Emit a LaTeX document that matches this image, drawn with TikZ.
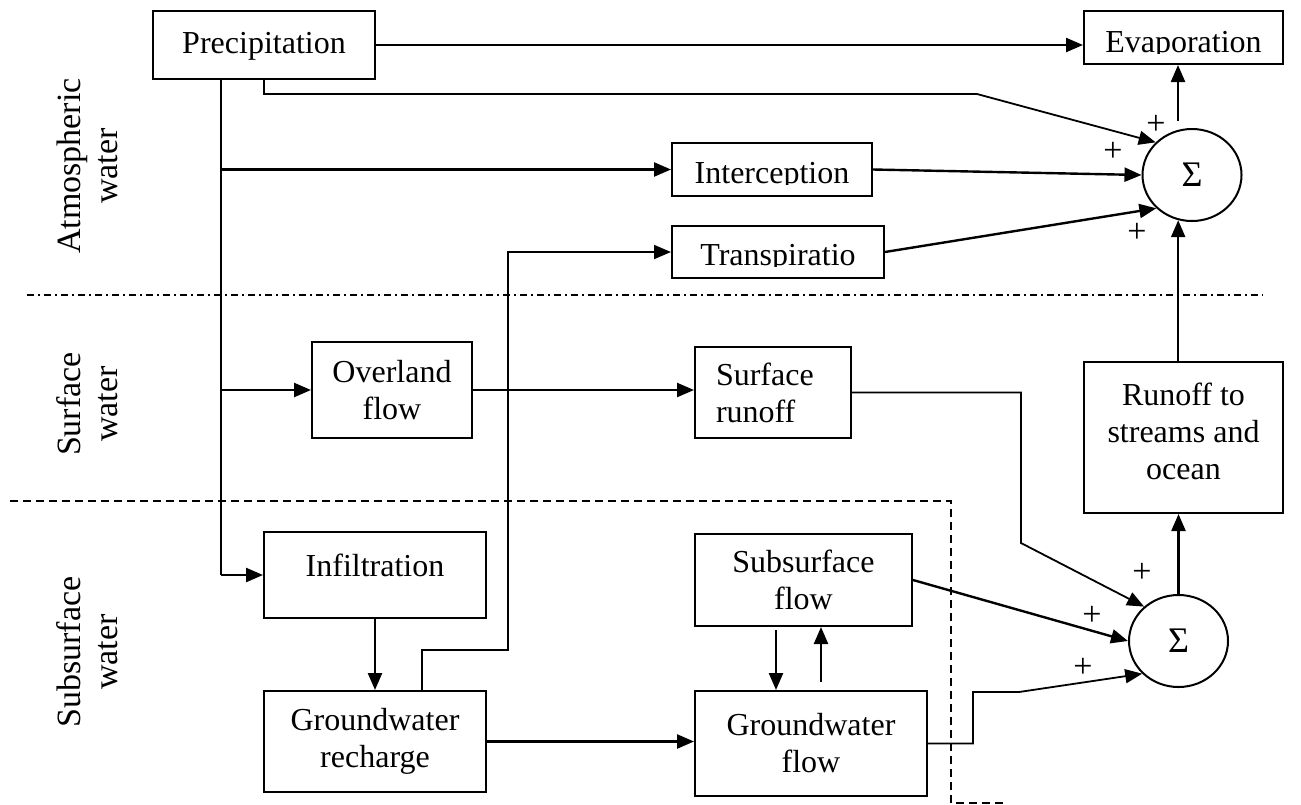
\documentclass[tikz,border=0pt]{standalone}
\usepackage{fontspec}
\setmainfont{Liberation Serif}
\usetikzlibrary{arrows.meta,shapes.geometric}
\begin{document}
\begin{tikzpicture}[x=1pt,y=-1pt,
  box/.style={draw,line width=2pt,inner sep=0pt,font=\fontsize{32}{37}\selectfont,align=center},
  arr/.style={line width=2.4pt,-{Triangle[length=17pt,width=14pt]}},
  thin/.style={line width=1.8pt},
  sumnode/.style={draw,ellipse,line width=2pt,minimum width=99pt,minimum height=92pt,inner sep=0pt,font=\fontsize{36}{40}\selectfont},
  plus/.style={font=\fontsize{34}{36}\selectfont,inner sep=0pt},
  side/.style={rotate=90,align=center,font=\fontsize{34}{37}\selectfont,inner sep=0pt}]
\useasboundingbox (0,0) rectangle (1301,804);

% boxes
\node[box,minimum width=222pt,minimum height=68pt,text height=16pt,text depth=0pt] (pr) at (264,45) {Precipitation};
\node[box,minimum width=199pt,minimum height=53pt,text height=29pt,text depth=0pt] (ev) at (1183.5,37.5) {Evaporation};
\node[box,minimum width=200pt,minimum height=53pt,text height=27pt,text depth=0pt] (in) at (772,169.5) {Interception};
\node[box,minimum width=212pt,minimum height=52pt,text height=26pt,text depth=0pt] (tr) at (778,252) {Transpiratio};
\node[box,minimum width=160pt,minimum height=96pt] (ov) at (392,390) {Overland\\flow};
\node[box,minimum width=156pt,minimum height=91pt,align=left,text width=114pt] (sr) at (773,392.5) {Surface\\runoff};
\node[box,minimum width=199pt,minimum height=151pt,text depth=12pt] (ro) at (1183.5,437.5) {Runoff to\\streams and\\ocean};
\node[box,minimum width=222pt,minimum height=86pt,text depth=20pt] (inf) at (375,575) {Infiltration};
\node[box,minimum width=217pt,minimum height=92pt] (sf) at (803.5,580) {Subsurface\\flow};
\node[box,minimum width=222pt,minimum height=101pt] (gr) at (375,741.5) {Groundwater\\recharge};
\node[box,minimum width=232pt,minimum height=105pt] (gf) at (811,743.5) {Groundwater\\flow};
\node[sumnode] (s1) at (1192,175) {Σ};
\node[sumnode] (s2) at (1178.5,641) {Σ};

% descenders cut off just under the baseline, as in the reference
\fill[white] ([xshift=-90pt,yshift=-16.5pt]ev.center) rectangle ([xshift=90pt,yshift=-24pt]ev.center);
\fill[white] ([xshift=-90pt,yshift=-15.5pt]in.center) rectangle ([xshift=90pt,yshift=-24pt]in.center);
\fill[white] ([xshift=-95pt,yshift=-15pt]tr.center) rectangle ([xshift=95pt,yshift=-23pt]tr.center);

% side labels
\node[side] (la) at (87.5,166) {Atmospheric\\water};
\node[side] (ls) at (87.5,404) {Surface\\water};
\node[side] (lu) at (87.5,652) {Subsurface\\water};

% plus signs
\node[plus] (pa1) at (1156,125) {+};
\node[plus] (pa2) at (1113,152) {+};
\node[plus] (pa3) at (1137,233) {+};
\node[plus] (pb1) at (1142,573) {+};
\node[plus] (pb2) at (1092,616) {+};
\node[plus] (pb3) at (1083,668) {+};

% zone separators
\draw[line width=1.6pt,dash pattern=on 7pt off 4pt on 2pt off 4pt] (27,295) -- (1263,295);
\draw[line width=1.6pt,dash pattern=on 8pt off 5pt] (10,501) -- (951,501) -- (951,803) -- (1005,803);

% coordinates
\coordinate (mv) at (221,0);
\coordinate (a1) at (264,94);
\coordinate (a2) at (977,94);
\coordinate (b1) at (422,650);
\coordinate (b2) at (508,650);
\coordinate (c1) at (1021,543);
\coordinate (d1) at (776,630);
\coordinate (u1) at (821,682);
\coordinate (f1) at (973,692);
\coordinate (f2) at (1019,692);
\coordinate (e1) at (1178,121);

% connectors
\draw[arr] (pr.east) -- (pr.east -| ev.west);
\draw[arr,thin] (pr.south -| a1) -- (a1) -- (a2) -- (s1.138);
\draw[line width=2.4pt] (pr.south -| mv) -- (inf.west -| mv);
\draw[arr] (inf.west -| mv) -- (inf.west);
\draw[arr] (in.west -| mv) -- (in.west);
\draw[arr] (ov.west -| mv) -- (ov.west);
\draw[arr] (in.east) -- (s1.west);
\draw[arr] (tr.east) -- (s1.223);
\draw[arr,thin] (gr.north -| b1) -- (b1) -- (b2) -- (b2 |- tr.west) -- (tr.west);
\draw[arr] (ov.east) -- (ov.east -| sr.west);
\draw[arr,thin] (sr.east) -- (sr.east -| c1) -- (c1) -- (s2.135);
\draw[arr] (inf.south) -- (gr.north);
\draw[arr] (gr.east) -- (gr.east -| gf.west);
\draw[arr] (d1) -- (d1 |- gf.north);
\draw[arr] (u1) -- (u1 |- sf.south);
\draw[arr] (sf.east) -- (s2.west);
\draw[arr,thin] (gf.east) -- (gf.east -| f1) -- (f1) -- (f2) -- (s2.222);
\draw[arr] (ro.north -| s1.253) -- (s1.253);
\draw[arr] (s2.north) -- (s2.north |- ro.south);
\draw[arr] (e1) -- (e1 |- ev.south);
\end{tikzpicture}
\end{document}
